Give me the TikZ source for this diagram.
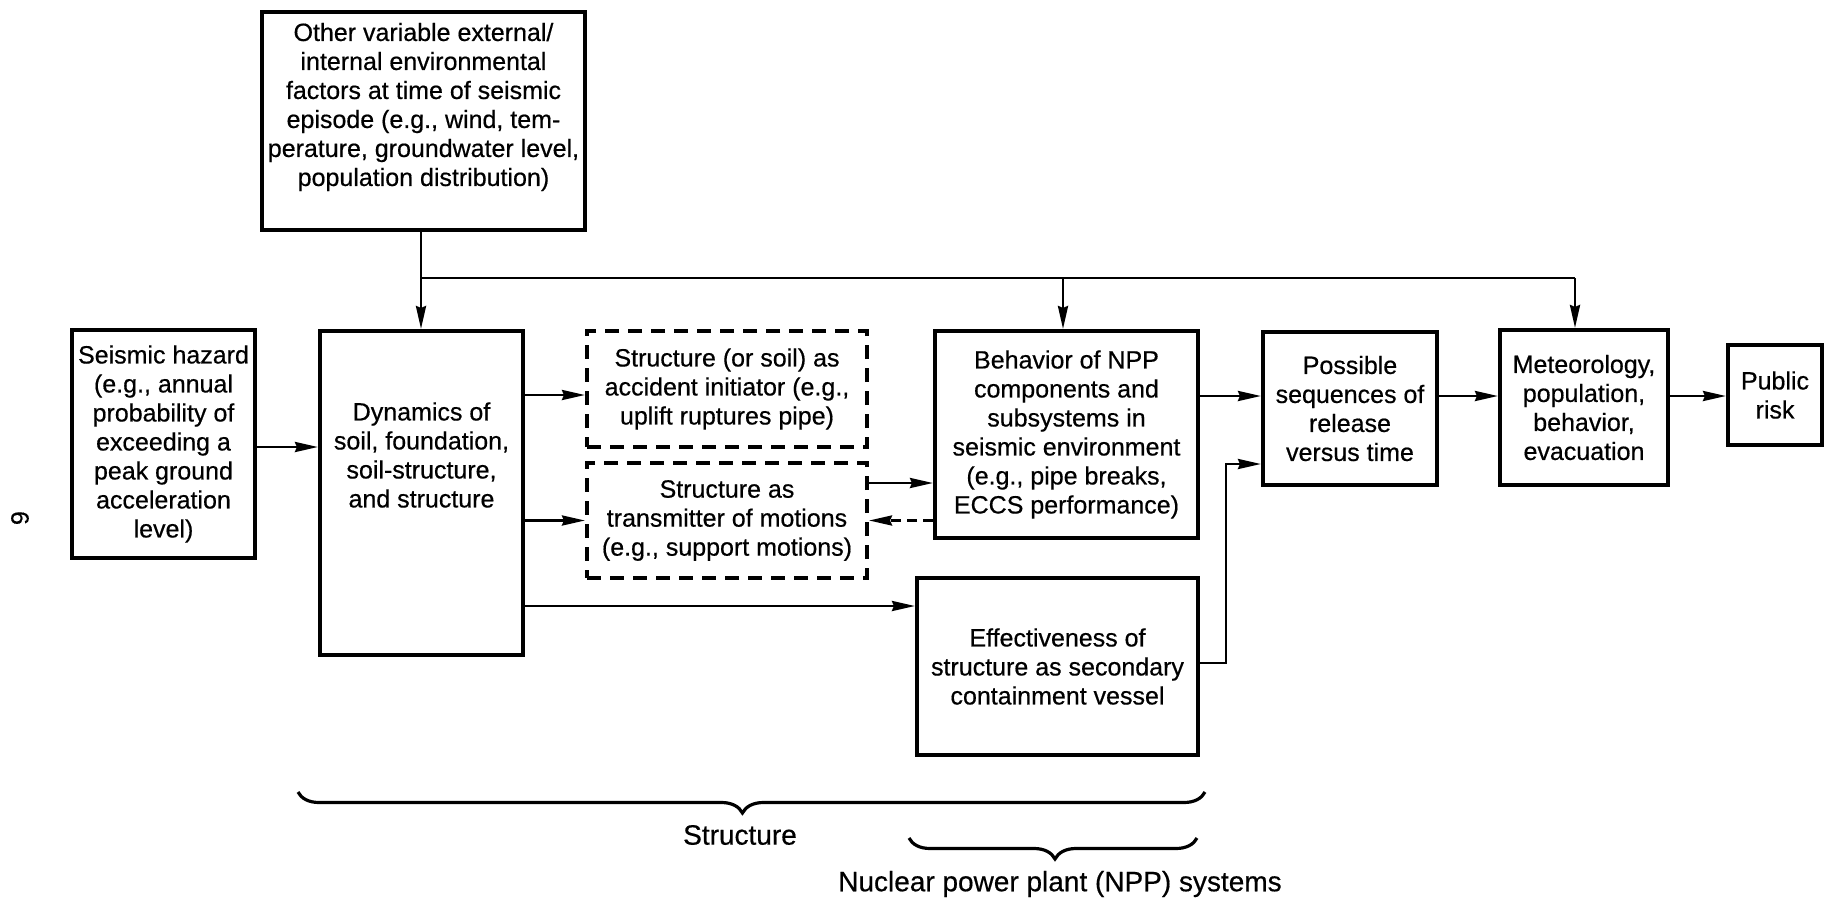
\documentclass[tikz,border=0pt]{standalone}
\usepackage{fontspec}
\setmainfont{Liberation Sans}[FakeBold=0.5]
\usetikzlibrary{arrows.meta,decorations.pathreplacing,calc}
\begin{document}
\begin{tikzpicture}[x=0.5pt,y=-0.5pt,
  box/.style={draw, line width=2pt, inner sep=0pt, align=center, font=\fontsize{12.5}{14.5}\selectfont},
  dbox/.style={box, dash pattern=on 7pt off 4.5pt},
  txt/.style={inner sep=0pt, align=center, font=\fontsize{12.5}{14.5}\selectfont},
  conn/.style={line width=1.4pt},
  arr/.style={conn, -{Stealth[length=11.5pt,width=5pt,inset=1pt]}},
  darr/.style={arr, dash pattern=on 5pt off 3pt},
  brc/.style={decorate, decoration={brace, mirror, amplitude=10.5pt}, line width=1.6pt},
  lab/.style={inner sep=0pt, font=\fontsize{14}{16}\selectfont}
]
\useasboundingbox (0,0) rectangle (1827,905);

% boxes
\node[box, minimum width=161.5pt, minimum height=109pt] (top) at (423.5,121) {};
\node[txt] (top-t) at (423.5,107) {Other variable external/\\internal environmental\\factors at time of seismic\\episode (e.g., wind, tem-\\perature, groundwater level,\\population distribution)};

\node[box, minimum width=91.5pt, minimum height=114pt] (seis) at (163.5,444) {Seismic hazard\\(e.g., annual\\probability of\\exceeding a\\peak ground\\acceleration\\level)};

\node[box, minimum width=101.5pt, minimum height=162pt] (dyn) at (421.5,493) {};
\node[txt] (dyn-t) at (421.5,455) {Dynamics of\\soil, foundation,\\soil-structure,\\and structure};

\node[dbox, minimum width=140pt, minimum height=58pt] (d1) at (727,389) {Structure (or soil) as\\accident initiator (e.g.,\\uplift ruptures pipe)};
\node[dbox, minimum width=140pt, minimum height=57.5pt] (d2) at (727,520.5) {Structure as\\transmitter of motions\\(e.g., support motions)};

\node[box, minimum width=131.5pt, minimum height=103.5pt] (beh) at (1066.5,434.5) {Behavior of NPP\\components and\\subsystems in\\seismic environment\\(e.g., pipe breaks,\\ECCS performance)};

\node[box, minimum width=140.5pt, minimum height=88.5pt] (eff) at (1057.5,666.5) {Effectiveness of\\structure as secondary\\containment vessel};

\node[box, minimum width=87pt, minimum height=76.5pt] (poss) at (1350,408.5) {Possible\\sequences of\\release\\versus time};

\node[box, minimum width=84pt, minimum height=77.5pt] (met) at (1584,407.5) {Meteorology,\\population,\\behavior,\\evacuation};

\node[box, minimum width=47pt, minimum height=50pt] (pub) at (1775,395) {Public\\risk};

% page number
\node[lab, font=\fontsize{12.5}{14}\selectfont, rotate=-90] (pg) at (20,518) {6};

% level coordinates
\coordinate (j1) at (421,278);
\coordinate (j2) at (1063,278);
\coordinate (j3) at (1575,278);
\coordinate (lva) at (0,447);
\coordinate (lvb) at (0,395);
\coordinate (lvc) at (0,606);
\coordinate (lvd) at (0,483);
\coordinate (lve) at (0,396);
\coordinate (k1) at (1226,663);
\coordinate (k2) at (1226,464);

% connectors
\draw[conn] (j1 |- top.south) -- (j1) -- (j3);
\draw[arr] (j1) -- (j1 |- dyn.north);
\draw[arr] (j2) -- (j2 |- beh.north);
\draw[arr] (j3) -- (j3 |- met.north);

\draw[arr] (seis.east |- lva) -- (dyn.west |- lva);
\draw[arr] (dyn.east |- lvb) -- (d1.west |- lvb);
\draw[arr] (dyn.east |- d2.west) -- (d2.west);
\draw[arr] (dyn.east |- lvc) -- (eff.west |- lvc);
\draw[arr] (d2.east |- lvd) -- (beh.west |- lvd);
\draw[darr] (beh.west |- d2.east) -- (d2.east);
\draw[arr] (beh.east |- lve) -- (poss.west |- lve);
\draw[arr] (poss.east |- lve) -- (met.west |- lve);
\draw[arr] (met.east |- lve) -- (pub.west |- lve);
\draw[arr] (eff.east |- k1) -- (k1) -- (k2) -- (poss.west |- k2);

% braces
\coordinate (b1l) at (298,792);
\coordinate (b1r) at (1205,792);
\draw[brc, decoration={aspect=0.49}] (b1l) -- (b1r);
\node[lab] (slab) at (740,835) {Structure};

\coordinate (b2l) at (909,838);
\coordinate (b2r) at (1197,838);
\draw[brc, decoration={aspect=0.507}] (b2l) -- (b2r);
\node[lab] (nlab) at (1060,884) {Nuclear power plant (NPP) systems};
\end{tikzpicture}
\end{document}
